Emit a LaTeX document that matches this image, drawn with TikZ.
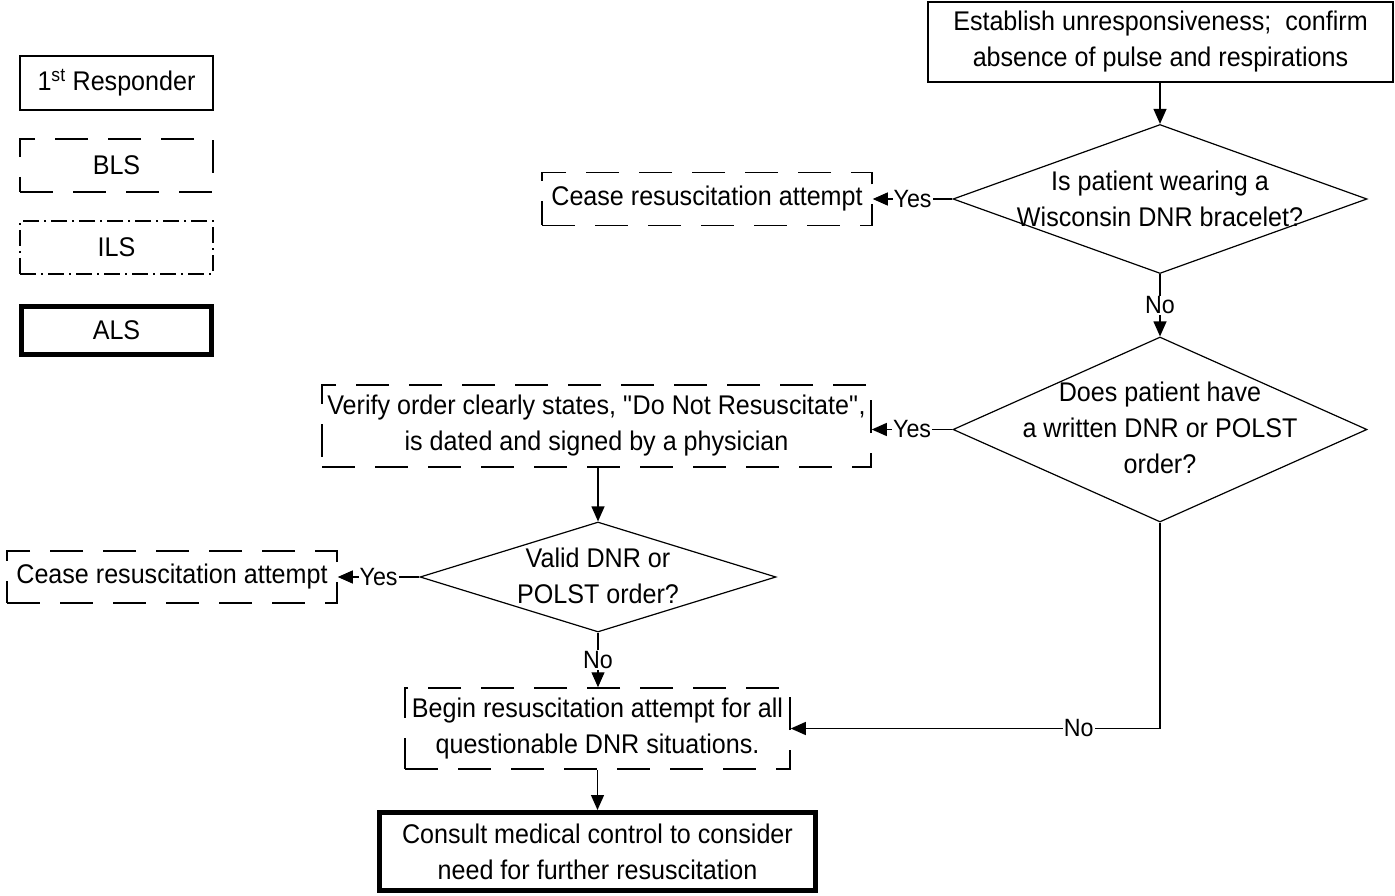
\documentclass[tikz,border=0pt]{standalone}
\usepackage{fontspec}
\setmainfont{Liberation Sans}[FakeStretch=0.93]
\usepackage{tikz}
\usetikzlibrary{shapes.geometric, arrows.meta, positioning, calc}
\tikzstyle{responder} = [rectangle, draw, line width=1.5pt, align=center]
\tikzstyle{bls} = [rectangle, draw, line width=1.5pt, dash pattern=on 33pt off 20pt, align=center]
\tikzstyle{ils} = [rectangle, draw, line width=1.5pt, dash pattern=on 16pt off 5pt on 2pt off 5pt, align=center]
\tikzstyle{als} = [rectangle, draw, line width=5pt, align=center]
\tikzstyle{decision} = [diamond, draw, line width=1.2pt, inner sep=0pt]
\tikzstyle{arrow} = [line width=1.2pt, -{Triangle[length=15pt, width=13pt]}]
\tikzstyle{answer} = [fill=white, inner sep=1pt, font=\fontsize{25}{28}\selectfont]

\begin{document}
\begin{tikzpicture}[x=1pt, y=-1pt, font=\fontsize{27}{36}\selectfont]
\useasboundingbox (0,0) rectangle (1395,896);

% Legend
\node[responder, minimum width=193pt, minimum height=54pt] (legresp) at (116.5,83) {1\textsuperscript{st} Responder};
\node[bls, minimum width=193pt, minimum height=53pt] (legbls) at (116.5,165.5) {BLS};
\node[ils, minimum width=193pt, minimum height=53pt] (legils) at (116.5,247.5) {ILS};
\node[als, minimum width=190pt, minimum height=48pt] (legals) at (116.5,330.5) {ALS};

% Flow steps
\node[responder, minimum width=465pt, minimum height=80pt] (establish) at (1160.5,42) {
    Establish unresponsiveness;~ confirm\\
    absence of pulse and respirations
};

\node[decision, minimum width=414pt, minimum height=149pt] (bracelet) at (1160,199) {};
\node[align=center] (bracelettext) at (bracelet) {
    Is patient wearing a\\
    Wisconsin DNR bracelet?
};

\node[bls, minimum width=330pt, minimum height=53pt] (cease1) at (707,199) {Cease resuscitation attempt};

\node[decision, minimum width=414pt, minimum height=185pt] (written) at (1160,429.5) {};
\node[align=center] (writtentext) at (1160,428) {
    Does patient have\\
    a written DNR or POLST\\
    order?
};

\node[bls, minimum width=549pt, minimum height=82pt] (verify) at (596.5,426) {
    Verify order clearly states, \textquotedbl Do Not Resuscitate\textquotedbl,\\
    is dated and signed by a physician
};

\node[decision, minimum width=356pt, minimum height=110pt] (valid) at (598,577) {};
\node[align=center] (validtext) at (598,576) {
    Valid DNR or\\
    POLST order?
};

\node[bls, minimum width=330pt, minimum height=52pt] (cease2) at (172,577) {Cease resuscitation attempt};

\node[bls, minimum width=385pt, minimum height=81pt] (begin) at (597.5,728.5) {
    Begin resuscitation attempt for all\\
    questionable DNR situations.
};

\node[als, minimum width=436pt, minimum height=78pt] (consult) at (597.5,851.5) {
    Consult medical control to consider\\
    need for further resuscitation
};

% Arrows
\draw[arrow] (establish.south -| bracelet.north) -- (bracelet.north);
\draw[arrow] (bracelet.west) -- node[answer] {Yes} (cease1.east |- bracelet.west);
\draw[arrow] (bracelet.south) -- node[answer] {No} (written.north);
\draw[arrow] (written.west) -- node[answer] {Yes} (verify.east |- written.west);
\draw[arrow] (verify.south -| valid.north) -- (valid.north);
\draw[arrow] (valid.west) -- node[answer] {Yes} (cease2.east |- valid.west);
\draw[arrow] (valid.south) -- node[answer] {No} (begin.north -| valid.south);
\draw[arrow] (written.south) |- node[answer, pos=0.61] {No} (begin.east);
\draw[arrow] (begin.south -| consult.north) -- (consult.north);
\end{tikzpicture}
\end{document}
